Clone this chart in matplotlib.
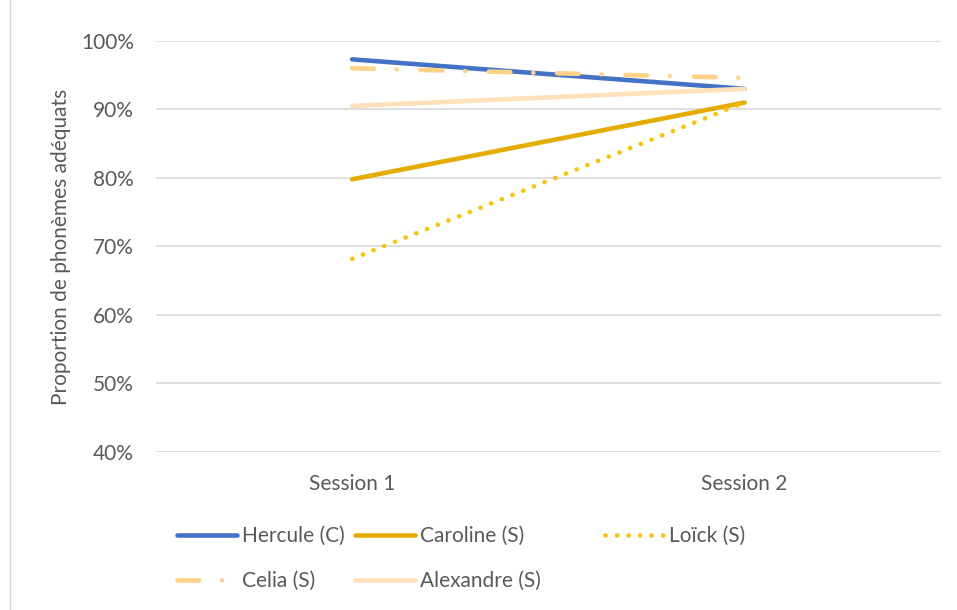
import numpy as np
import matplotlib.pyplot as plt
from matplotlib.lines import Line2D

plt.rcParams['font.family'] = ['Lato', 'DejaVu Sans']

# Data
sessions = ['Session 1', 'Session 2']
hercule = [97.3, 93.0]
caroline = [79.8, 91.0]
loick = [68.2, 91.0]
celia = [96.0, 94.6]
alexandre = [90.5, 93.0]

names = ['Hercule (C)', 'Caroline (S)', 'Loïck (S)', 'Celia (S)', 'Alexandre (S)']
yticks = [40, 50, 60, 70, 80, 90, 100]

grey = '#595959'
lw = 3.3
fs = 15

fig = plt.figure(figsize=(9.57, 6.10), dpi=100)
ax = fig.add_axes([0.163, 0.259, 0.820, 0.674])

x = np.arange(len(sessions))
l1, = ax.plot(x, hercule, color='#4472C4', lw=lw, solid_capstyle='round')
l2, = ax.plot(x, caroline, color='#E5AC00', lw=lw, solid_capstyle='round')
l3, = ax.plot(x, loick, color='#FFC000', lw=lw, dash_capstyle='round',
              dashes=(0.01, 2.5))
l4, = ax.plot(x, celia, color='#FFD285', lw=lw, dash_capstyle='round',
              dashes=(4.7, 5.0, 0.01, 5.2))
l5, = ax.plot(x, alexandre, color='#FFE0B8', lw=lw, solid_capstyle='round')

ax.set_xlim(-0.5, 1.5)
ax.set_ylim(40, 100)
ax.set_yticks(yticks)
ax.set_yticklabels([f'{v}%' for v in yticks])
ax.set_xticks(x)
ax.set_xticklabels(sessions)
ax.grid(axis='y', color='#D9D9D9', lw=1.2)
ax.set_axisbelow(True)
for s in ax.spines.values():
    s.set_visible(False)
ax.tick_params(axis='both', length=0, labelsize=fs, colors=grey)
ax.tick_params(axis='y', pad=16)
ax.tick_params(axis='x', pad=16)
ax.set_ylabel('Proportion de phonèmes adéquats', fontsize=fs, color=grey, labelpad=7)

# chart area border on the left
fig.add_artist(Line2D([0.0105, 0.0105], [0, 1], color='#D9D9D9', lw=1, transform=fig.transFigure))

# legend, one column at a time (Excel order row by row)
handles = [l1, l2, l3, l4, l5]
cols = [([0, 3], 0.185), ([1, 4], 0.371), ([2], 0.632)]
for idx, xa in cols:
    leg = fig.legend([handles[i] for i in idx], [names[i] for i in idx],
                     loc='upper left', bbox_to_anchor=(xa, 0.138),
                     frameon=False, fontsize=fs, handlelength=2.9,
                     handletextpad=0.2, labelspacing=1.2, borderpad=0,
                     borderaxespad=0, labelcolor=grey)

fig.savefig('out.png', dpi=100)
